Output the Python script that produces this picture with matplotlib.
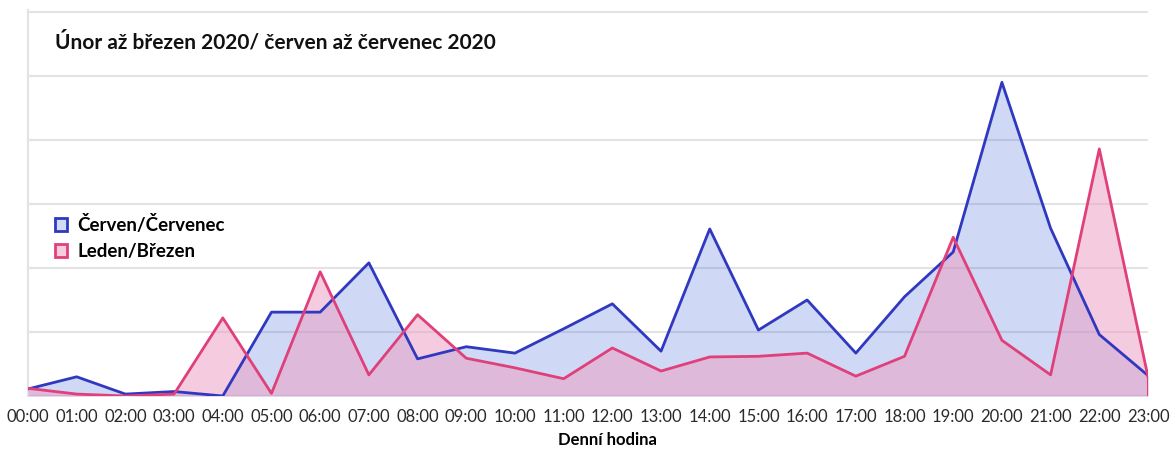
import numpy as np
import matplotlib.pyplot as plt
from matplotlib.patches import Patch

plt.rcParams['font.family'] = ['Lato', 'DejaVu Sans']

hodiny = ['%02d:00' % h for h in range(24)]
cerven_cervenec = [0.11, 0.30, 0.03, 0.07, 0.0, 1.31, 1.31, 2.08, 0.58, 0.77, 0.67, 1.05,
                   1.44, 0.70, 2.61, 1.03, 1.50, 0.67, 1.55, 2.25, 4.90, 2.62, 0.96, 0.32]
leden_brezen = [0.12, 0.03, 0.0, 0.03, 1.22, 0.04, 1.94, 0.33, 1.27, 0.59, 0.44, 0.27,
                0.75, 0.39, 0.61, 0.62, 0.67, 0.31, 0.62, 2.48, 0.87, 0.33, 3.86, 0.30]

modra = '#3038c0'
ruzova = '#e0407a'

fig = plt.figure(figsize=(11.72, 4.51), dpi=100)
ax = fig.add_axes([28 / 1172, 1 - 396 / 451, 1120 / 1172, 386 / 451])

x = np.arange(len(hodiny))
ax.fill_between(x, cerven_cervenec, color=(0.25, 0.4, 0.85), alpha=0.25, lw=0, zorder=2)
ax.fill_between(x, leden_brezen, color=(237 / 255, 155 / 255, 193 / 255), alpha=0.5, lw=0, zorder=3)
ax.plot(x, cerven_cervenec, color=modra, lw=2, zorder=4)
ax.plot(x, leden_brezen, color=ruzova, lw=2, zorder=5)
ax.vlines(x[-1], 0, leden_brezen[-1], color=ruzova, lw=1.5, zorder=5)

ax.set_xlim(0, 23)
ax.set_ylim(0, 6.03)
ax.set_yticks(range(0, 7))
ax.set_yticklabels([])
ax.grid(axis='y', color='#e3e3e3', lw=1.5, zorder=0)
ax.tick_params(axis='y', length=0)
ax.tick_params(axis='x', length=0, pad=9, labelsize=12, labelcolor='#2a2a2a')
ax.set_xticks(x)
ax.set_xticklabels(hodiny)
ax.set_xlabel('Denní hodina', fontsize=12, fontweight='bold')
ax.xaxis.set_label_coords(0.517, -0.094)
for s in ['top', 'right', 'bottom']:
    ax.spines[s].set_visible(False)
ax.spines['left'].set_color('#e3e3e3')
ax.spines['left'].set_linewidth(1.5)

fig.text(55 / 1172, 1 - 42 / 451, 'Únor až březen 2020/ červen až červenec 2020',
         fontsize=15, fontweight='bold', va='center', ha='left', color='#111111')

handles = [Patch(facecolor='#d0dcf6', edgecolor=modra, lw=2, label='Červen/Červenec'),
           Patch(facecolor='#f6cde0', edgecolor=ruzova, lw=2, label='Leden/Březen')]
leg = fig.legend(handles=handles, loc='upper left', bbox_to_anchor=(38 / 1172, 1 - 198 / 451),
                 frameon=False, handlelength=0.65, handleheight=0.65, handletextpad=0.55,
                 labelspacing=0.5, prop={'size': 13.5, 'weight': 'bold'})

fig.savefig('out.png', dpi=100)
